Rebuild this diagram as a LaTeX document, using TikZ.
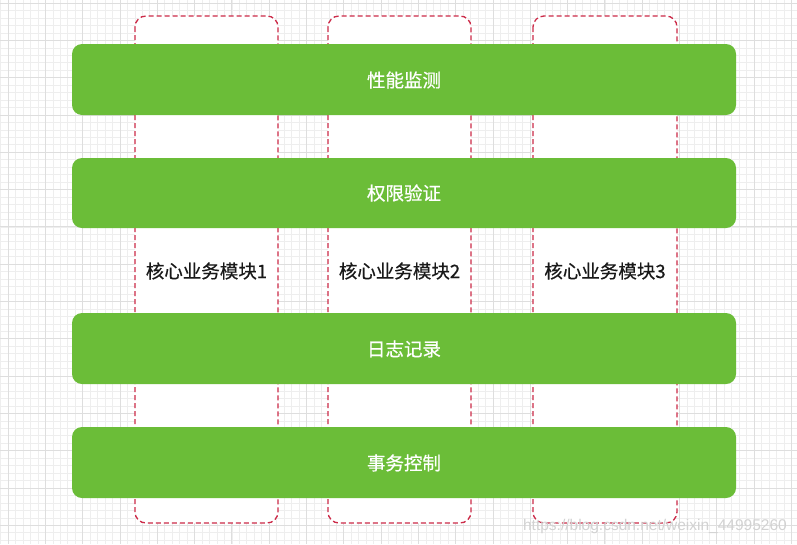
\documentclass[tikz,border=0pt]{standalone}
\usepackage{fontspec}
\setmainfont{Noto Sans CJK SC}
\newfontfamily\cjkmed[FakeBold=0.6]{Noto Sans CJK SC}
\newfontfamily\wmfont{Liberation Sans}
\definecolor{barGreen}{RGB}{107,189,56}
\definecolor{dashRed}{RGB}{204,42,72}
\definecolor{gridMinor}{RGB}{238,238,238}
\definecolor{gridMajor}{RGB}{222,222,222}
\definecolor{labelDark}{RGB}{25,25,25}
\tikzset{
  modbox/.style={draw=dashRed, line width=1.3pt, dash pattern=on 5pt off 3pt, fill=white, rounded corners=11pt},
  bar/.style={fill=barGreen, draw=none, rounded corners=10pt},
  barlabel/.style={text=white, font=\cjkmed\fontsize{18.5}{20}\selectfont, inner sep=0pt},
  modlabel/.style={text=labelDark, font=\cjkmed\fontsize{18.5}{20}\selectfont, inner sep=0pt},
  wmlabel/.style={text=gray!35, font=\wmfont\fontsize{15.5}{17}\selectfont, inner sep=0pt}
}
\begin{document}
\begin{tikzpicture}[x=1pt,y=-1pt]
\useasboundingbox (0,0) rectangle (797,544);
\fill[white] (0,0) rectangle (797,544);
% grid
\foreach \i in {0,...,107} {
  \draw[gridMinor, line width=0.5pt] ({0.54+7.46*\i},0) -- ({0.54+7.46*\i},544);
}
\foreach \i in {0,...,73} {
  \draw[gridMinor, line width=0.5pt] (0,{3.0+7.46*\i-7.46}) -- (797,{3.0+7.46*\i-7.46});
}
\foreach \i in {0,...,21} {
  \draw[gridMajor, line width=0.7pt] ({8+37.3*\i},0) -- ({8+37.3*\i},544);
}
\foreach \i in {0,...,14} {
  \draw[gridMajor, line width=0.7pt] (0,{3+37.3*\i}) -- (797,{3+37.3*\i});
}
% module boxes
\draw[modbox] (135,16) rectangle (278,523);
\draw[modbox] (328,16) rectangle (471,523);
\draw[modbox] (533,16) rectangle (677,523);
\node[modlabel] (m1) at (206.5,271) {核心业务模块1};
\node[modlabel] (m2) at (399.5,271) {核心业务模块2};
\node[modlabel] (m3) at (605,271) {核心业务模块3};
% bars
\fill[bar] (72,44) rectangle (736,115);
\fill[bar] (72,158) rectangle (736,228);
\fill[bar] (72,313) rectangle (736,384);
\fill[bar] (72,427) rectangle (736,498);
\node[barlabel] (b1) at (404,80) {性能监测};
\node[barlabel] (b2) at (404,193) {权限验证};
\node[barlabel] (b3) at (404,349) {日志记录};
\node[barlabel] (b4) at (404,463) {事务控制};
% watermark
\node[wmlabel, anchor=east] (wm) at (787,526) {https://blog.csdn.net/weixin\_44995260};
\end{tikzpicture}
\end{document}
